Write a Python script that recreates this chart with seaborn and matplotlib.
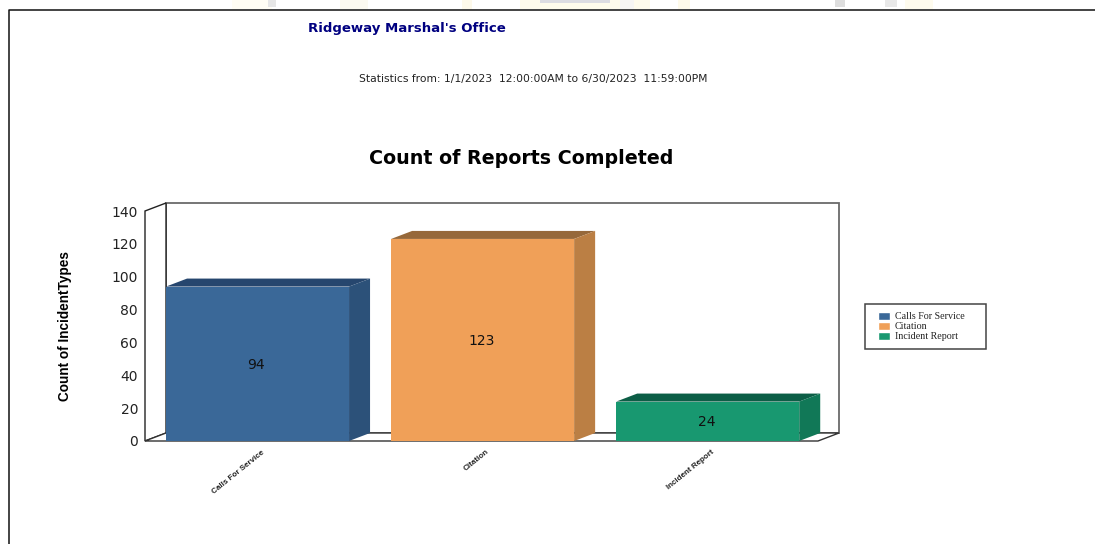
import matplotlib
matplotlib.use('Agg')
import matplotlib.pyplot as plt
import pandas as pd
import seaborn as sns
from matplotlib.patches import Polygon, Patch, Rectangle

categories = ['Calls For Service', 'Citation', 'Incident Report']
counts = [94, 123, 24]
bar_colors = ['#3a6898', '#f0a058', '#189870']
top_colors = ['#26466e', '#96683a', '#0c5e46']
side_colors = ['#2c5179', '#bb7f44', '#117857']
y_ticks = [0, 20, 40, 60, 80, 100, 120, 140]

W, H = 1095, 544
sns.set_style('white')
plt.rcParams['font.family'] = ['DejaVu Sans']

fig = plt.figure(figsize=(W / 100, H / 100), dpi=100)

# pixel helper, y measured from the top like in the screenshot
def px(x, y):
    return x / W, 1 - y / H

# what is left of the page watermark above the frame
for x, w, h, c in [(232, 40, 9, '#fffdf4'), (268, 8, 7, '#e6e6e6'), (340, 28, 9, '#fbf9f0'),
                   (462, 10, 9, '#fdf9ea'), (520, 130, 9, '#fefbec'), (540, 70, 3, '#dcdce2'),
                   (620, 14, 9, '#f6f5f3'), (678, 12, 9, '#fefaea'), (835, 10, 7, '#dedede'),
                   (885, 12, 7, '#e8e8e8'), (905, 28, 9, '#fefbee')]:
    fig.add_artist(Rectangle(px(x, h), w / W, h / H, transform=fig.transFigure, fc=c, ec='none'))

left, right, top, bottom = 145, 818, 211, 441
ax = fig.add_axes([left / W, 1 - bottom / H, (right - left) / W, (bottom - top) / H])

df = pd.DataFrame({'category': categories, 'count': counts})
sns.barplot(data=df, x='category', y='count', hue='category', palette=bar_colors,
            order=categories, width=0.813, legend=False, ax=ax, saturation=1, zorder=5,
            linewidth=0)
ax.set_xlim(-0.5, 2.49)
ax.set_ylim(0, 140)

# depth of the fake 3d box, in data units
dx = 21 / 225
dy = 8 / (230 / 140)
line = '#6a6a6a'

# back wall and floor
x0, x1 = ax.get_xlim()
ax.add_patch(Polygon([(x0 + dx, dy), (x0 + dx, 140 + dy), (x1 + dx, 140 + dy), (x1 + dx, dy)],
                     closed=True, fc='white', ec=line, lw=1.3, clip_on=False, zorder=1))
ax.add_patch(Polygon([(x0, 0), (x0 + dx, dy), (x0 + dx, 140 + dy), (x0, 140)],
                     closed=True, fc='white', ec='#222222', lw=1.0, clip_on=False, zorder=2))
ax.add_patch(Polygon([(x0, 0), (x0 + dx, dy), (x1 + dx, dy), (x1, 0)],
                     closed=True, fc='white', ec='#333333', lw=1.0, clip_on=False, zorder=2))

# top and side faces hung on the seaborn bars
for bar, value, tc, sc in zip(ax.patches[:3], counts, top_colors, side_colors):
    a = bar.get_x()
    b = a + bar.get_width()
    ax.add_patch(Polygon([(a, value), (a + dx, value + dy), (b + dx, value + dy), (b, value)],
                         closed=True, fc=tc, ec='none', clip_on=False, zorder=4))
    ax.add_patch(Polygon([(b, 0), (b + dx, dy), (b + dx, value + dy), (b, value)],
                         closed=True, fc=sc, ec='none', clip_on=False, zorder=4))
    ax.text(a + bar.get_width() / 2 - 0.005, value / 2 - 0.6, str(value), ha='center', va='center',
            fontsize=10, color='#111111', zorder=6)

sns.despine(ax=ax, left=True, bottom=True, top=True, right=True)
ax.set_xlabel('')
ax.set_ylabel('')
ax.set_yticks(y_ticks)
ax.tick_params(axis='y', labelsize=10, length=0, pad=5, colors='#222222')
ax.set_xticks(range(3))
ax.set_xticklabels([])

# slanted category labels, right end just under each bar centre
for i, name in enumerate(categories):
    ax.annotate(name, xy=(i, 0), xytext=(2.5, -5.5), textcoords='offset points',
                rotation=39, rotation_mode='anchor', ha='right', va='top',
                fontsize=5.8, fontweight='bold', color='#222222', family='Liberation Sans')

fig.text(*px(407, 28.5), "Ridgeway Marshal's Office", ha='center', va='center',
         fontsize=9.5, fontweight='bold', color='#000080')
fig.text(*px(533, 79), 'Statistics from: 1/1/2023  12:00:00AM to 6/30/2023  11:59:00PM',
         ha='center', va='center', fontsize=7.75, color='#222222')
fig.text(*px(521.5, 159), 'Count of Reports Completed', ha='center', va='center',
         fontsize=13.7, fontweight='bold', color='black')
fig.text(*px(65, 326), 'Count of IncidentTypes', ha='center', va='center', rotation=90,
         fontsize=9.8, fontweight='bold', color='black', family='Liberation Sans')

# legend box is drawn by hand so the padding can differ left and right
fig.add_artist(Rectangle(px(865, 349), 121 / W, 45 / H, transform=fig.transFigure,
                         fc='white', ec='#444444', lw=1.1))
handles = [Patch(facecolor=c, label=n) for c, n in zip(bar_colors, categories)]
leg = fig.legend(handles=handles, loc='center left', bbox_to_anchor=px(878, 326.5), ncol=1,
                 prop={'family': 'Liberation Serif', 'size': 7.2}, frameon=False,
                 borderpad=0, labelspacing=0.02, handlelength=1.2, handleheight=0.95,
                 handletextpad=0.5, borderaxespad=0)
for t in leg.get_texts():
    t.set_color('#222222')

# page frame, left and top edges
fig.add_artist(plt.Line2D([9 / W, 9 / W, 1], [0, 1 - 9.5 / H, 1 - 9.5 / H], color='#111111', lw=1.1))

fig.savefig('out.png', dpi=100)
